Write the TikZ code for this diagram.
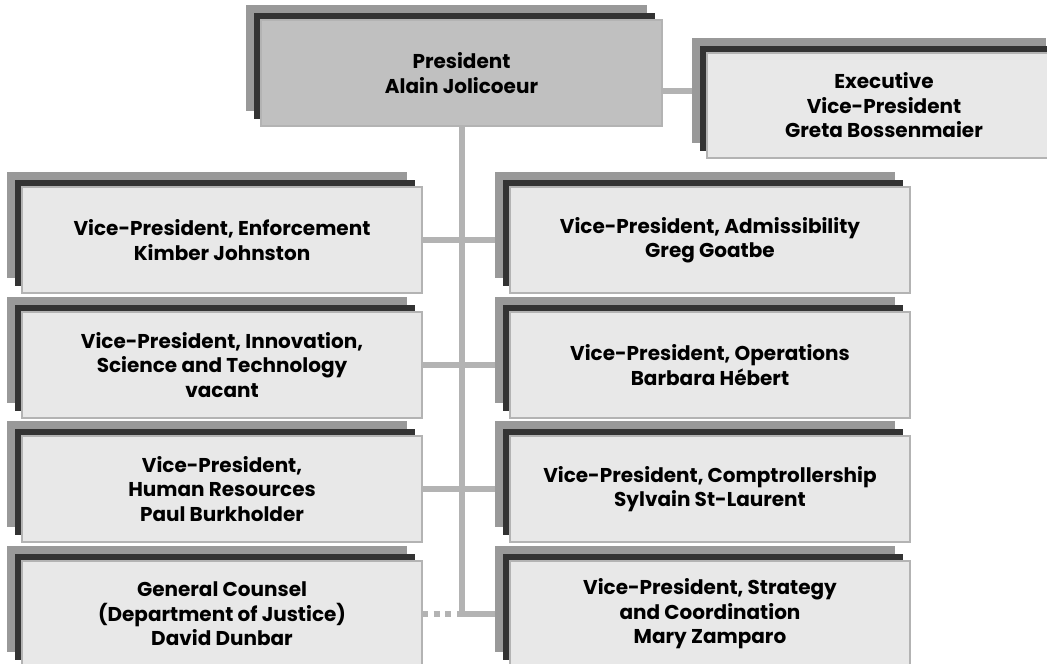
\documentclass[tikz,border=0pt]{standalone}
\usepackage{fontspec}
\setmainfont{Poppins}
\pgfdeclarelayer{bg}
\pgfdeclarelayer{sh}
\pgfsetlayers{bg,sh,main}
\definecolor{shgrey}{HTML}{999999}
\definecolor{shdark}{HTML}{333333}
\definecolor{linegrey}{HTML}{B3B3B3}
\definecolor{boxfill}{HTML}{E8E8E8}
\definecolor{presfill}{HTML}{C0C0C0}
\tikzset{
  orgbox/.style={draw=linegrey, line width=1.5pt, fill=boxfill, inner sep=0pt, outer sep=0pt,
    minimum width=400pt, minimum height=106pt, align=center,
    font=\fontsize{20}{24.5}\selectfont\bfseries},
  conn/.style={draw=linegrey, line width=6pt},
  dotconn/.style={conn, dash pattern=on 6pt off 5.7pt},
}
\newcommand\obox[4][]{%
  \node[orgbox,#1] (#2) at (#3) {#4};
  \begin{pgfonlayer}{sh}
    \fill[shgrey] ([shift={(-15,-15)}]#2.south west) rectangle ([shift={(-15,-15)}]#2.north east);
    \fill[shdark] ([shift={(-7.5,-7.5)}]#2.south west) rectangle ([shift={(-7.5,-7.5)}]#2.north east);
  \end{pgfonlayer}}
\begin{document}
\begin{tikzpicture}[x=1pt,y=-1pt]
\useasboundingbox (0,0) rectangle (1047,664);
\obox[fill=presfill, minimum width=401pt]{pres}{461.5,73}{President\\Alain Jolicoeur}
\obox[minimum width=354pt, minimum height=105pt]{exec}{884,105.5}{Executive\\Vice-President\\Greta Bossenmaier}
\obox{l1}{222,240}{Vice-President, Enforcement\\Kimber Johnston}
\obox{r1}{710,240}{Vice-President, Admissibility\\Greg Goatbe}
\obox{l2}{222,365}{Vice-President, Innovation,\\Science and Technology\\vacant}
\obox{r2}{710,365}{Vice-President, Operations\\Barbara Hébert}
\obox{l3}{222,489}{Vice-President,\\Human Resources\\Paul Burkholder}
\obox{r3}{710,489}{Vice-President, Comptrollership\\Sylvain St-Laurent}
\obox{l4}{222,614}{General Counsel\\(Department of Justice)\\David Dunbar}
\obox{r4}{710,614}{Vice-President, Strategy\\and Coordination\\Mary Zamparo}
\begin{pgfonlayer}{bg}
  \coordinate (pe) at ([yshift=-17.5pt]pres.east);
  \draw[conn] (pe) -- (pe -| exec.west);
  \draw[conn] (pres.south) -- (pres.south |- r4.west) -- (r4.west);
  \draw[dotconn] (l4.east) -- (pres.south |- l4.east);
  \draw[conn] (l1.east) -- (r1.west);
  \draw[conn] (l2.east) -- (r2.west);
  \draw[conn] (l3.east) -- (r3.west);
\end{pgfonlayer}
\end{tikzpicture}
\end{document}
